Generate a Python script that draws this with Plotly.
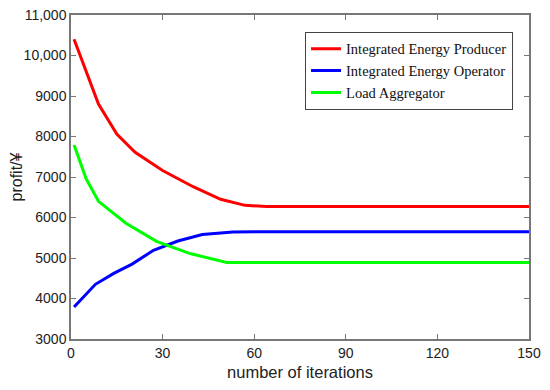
import plotly.graph_objects as go

producer_x = [1, 9, 15, 21, 30, 40, 49, 57, 64, 150]
producer_y = [10400, 8800, 8060, 7610, 7160, 6760, 6450, 6300, 6270, 6270]

operator_x = [1, 8, 14, 20, 27, 35, 43, 53, 60, 150]
operator_y = [3790, 4350, 4620, 4850, 5190, 5420, 5580, 5640, 5650, 5650]

aggregator_x = [1, 5, 9, 18, 28, 39, 51, 150]
aggregator_y = [7790, 6950, 6400, 5860, 5410, 5110, 4890, 4890]

x_ticks = [0, 30, 60, 90, 120, 150]
y_ticks = [3000, 4000, 5000, 6000, 7000, 8000, 9000, 10000, 11000]
y_tick_text = ["3000", "4000", "5000", "6000", "7000", "8000", "9000", "10,000", "11,000"]

fig = go.Figure()
fig.add_trace(go.Scatter(x=producer_x, y=producer_y, mode="lines",
                         name="Integrated Energy Producer",
                         line=dict(color="#ff0000", width=3)))
fig.add_trace(go.Scatter(x=operator_x, y=operator_y, mode="lines",
                         name="Integrated Energy Operator",
                         line=dict(color="#0000ff", width=3)))
fig.add_trace(go.Scatter(x=aggregator_x, y=aggregator_y, mode="lines",
                         name="Load Aggregator",
                         line=dict(color="#00ff00", width=3)))

axis_common = dict(showline=True, linecolor="#777777", linewidth=1.5, mirror="ticks",
                   ticks="inside", ticklen=5, tickcolor="#777777", showgrid=False,
                   zeroline=False, automargin=False, ticklabeloverflow="allow",
                   tickfont=dict(family="Liberation Sans, Arial", size=14, color="#222222"))

# page body has an 8px default margin; size/margins compensate for it
fig.update_layout(
    width=542, height=382,
    margin=dict(l=63, r=21, t=7, b=51),
    paper_bgcolor="white", plot_bgcolor="white",
    xaxis=dict(range=[0, 150], tickvals=x_ticks,
               title=dict(text="number of iterations", standoff=7,
                          font=dict(family="Liberation Sans, Arial", size=16.5, color="#222222")),
               **axis_common),
    yaxis=dict(range=[3000, 11000], tickvals=y_ticks, ticktext=y_tick_text,
               title=dict(text="profit/¥", standoff=4,
                          font=dict(family="Liberation Sans, Arial", size=16, color="#222222")),
               **axis_common),
    legend=dict(x=0.511, y=0.948, xanchor="left", yanchor="top",
                bgcolor="white", bordercolor="#444444", borderwidth=1,
                font=dict(family="Liberation Serif, Times New Roman", size=14.5, color="#111111")),
    showlegend=True,
)

fig.write_html("out.html")
